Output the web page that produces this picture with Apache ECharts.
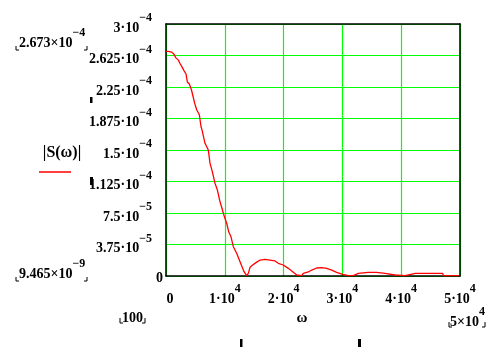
<!DOCTYPE html>
<html>
<head>
<meta charset="utf-8">
<script src="https://cdn.jsdelivr.net/npm/echarts@6.0.0/dist/echarts.min.js"></script>
<style>
html,body{margin:0;padding:0;background:#fff;}
#chart{width:504px;height:352px;}
</style>
</head>
<body>
<div id="chart"></div>
<script>
// ---- data ----
const omega = [0, 390, 970, 1360, 1650, 2100, 2380, 2720, 3060, 3400, 3630, 3970, 4310, 4540, 4880, 5220, 5670, 5950, 6120, 6630,
  7200, 7480, 7880, 8330, 8730, 9180, 9520, 9920, 10320, 10660, 11050, 11450, 12020, 12470, 12930, 13270, 13720, 14000, 14290, 14740,
  15310, 15990, 16840, 17690, 18540, 19100, 19950, 20800, 21550, 22230, 23080, 23350, 24200, 24780, 25630, 26480, 27330, 28180, 29030, 30050,
  31000, 31850, 32700, 34400, 35830, 37240, 38950, 40650, 42400, 44330, 47060, 47160, 49880];
// |S(omega)| in units of 1e-4
const magnitude = [2.673, 2.673, 2.665, 2.64, 2.60, 2.57, 2.53, 2.49, 2.445, 2.405, 2.31, 2.285, 2.22, 2.155, 2.055, 1.98, 1.92, 1.78, 1.74, 1.58,
  1.50, 1.343, 1.243, 1.105, 1.025, 0.886, 0.807, 0.707, 0.628, 0.528, 0.468, 0.349, 0.27, 0.19, 0.11, 0.051, 0.004, 0.032, 0.103, 0.131,
  0.159, 0.19, 0.198, 0.19, 0.179, 0.151, 0.131, 0.091, 0.051, 0.012, 0.004, 0.032, 0.048, 0.071, 0.095, 0.099, 0.091, 0.071, 0.044, 0.02,
  0.004, 0.004, 0.032, 0.044, 0.044, 0.032, 0.012, 0.004, 0.032, 0.032, 0.032, 0.004, 0.004];
const MAG_UNIT = 1e-4;

const yTickMantissa = ['0', '3.75', '7.5', '1.125', '1.5', '1.875', '2.25', '2.625', '3'];
const yTickExponent = ['', '\u22125', '\u22125', '\u22124', '\u22124', '\u22124', '\u22124', '\u22124', '\u22124'];
const xTickMantissa = ['0', '1', '2', '3', '4', '5'];
const xTickExponent = ['', '4', '4', '4', '4', '4'];
const Y_MAX = 3e-4, Y_STEP = 3.75e-5, X_MAX = 50000, X_STEP = 10000;

const FONT = '"Liberation Serif", "Times New Roman", serif';

const seriesData = omega.map((w, i) => [w, magnitude[i] * MAG_UNIT]);

const yRich = {
  m: {fontFamily: FONT, fontWeight: 'bold', fontSize: 14, color: '#000', padding: [8, 0, 0, 0]},
  s: {fontFamily: FONT, fontWeight: 'bold', fontSize: 12, color: '#000', padding: [0, 11, 12, 0]},
  z: {fontFamily: FONT, fontWeight: 'bold', fontSize: 14, color: '#000', padding: [4, 0, 0, 0]}
};
const xRich = {
  m: {fontFamily: FONT, fontWeight: 'bold', fontSize: 14, color: '#000'},
  s: {fontFamily: FONT, fontWeight: 'bold', fontSize: 12, color: '#000', padding: [0, 0, 20, 0]},
  z: {fontFamily: FONT, fontWeight: 'bold', fontSize: 14, color: '#000', padding: [9, 0, 0, 8]}
};
const gRich = {
  m: {fontFamily: FONT, fontWeight: 'bold', fontSize: 14, fill: '#000', padding: [8, 0, 0, 0]},
  s: {fontFamily: FONT, fontWeight: 'bold', fontSize: 12, fill: '#000', padding: [0, 0, 12, 0]}
};

function bracket(x1, x2, yTop, yBot) {
  return [
    {type: 'polyline', shape: {points: [[x1, yTop], [x1, yBot], [x1 + 3, yBot]]}, style: {stroke: '#000', lineWidth: 1, fill: null}},
    {type: 'polyline', shape: {points: [[x2 - 3, yBot], [x2, yBot], [x2, yTop]]}, style: {stroke: '#000', lineWidth: 1, fill: null}}
  ];
}

const frameLine = {show: true, onZero: false, lineStyle: {color: '#000', width: 1.5}};

const chart = echarts.init(document.getElementById('chart'), null, {renderer: 'canvas'});
chart.setOption({
  animation: false,
  backgroundColor: '#fff',
  grid: {left: 166, top: 24, width: 294, height: 252, show: false},
  xAxis: [{
    type: 'value', min: 0, max: X_MAX, interval: X_STEP, position: 'bottom',
    axisLine: frameLine, axisTick: {show: false},
    splitLine: {show: true, lineStyle: {color: '#00ff00', width: 1.2}},
    axisLabel: {
      margin: 7, rich: xRich,
      formatter: function (v) {
        const i = Math.round(v / X_STEP);
        if (!xTickExponent[i]) return '{z|' + xTickMantissa[i] + '}';
        return '{m|' + xTickMantissa[i] + '\u00b710}{s|' + xTickExponent[i] + '}';
      }
    },
    z: 3
  }, {
    type: 'value', min: 0, max: X_MAX, interval: X_STEP, position: 'top',
    axisLine: frameLine, axisTick: {show: false}, axisLabel: {show: false}, splitLine: {show: false}, z: 3
  }],
  yAxis: [{
    type: 'value', min: 0, max: Y_MAX, interval: Y_STEP, position: 'left',
    axisLine: frameLine, axisTick: {show: false},
    splitLine: {show: true, lineStyle: {color: '#00ff00', width: 1.2}},
    axisLabel: {
      margin: 3, rich: yRich, align: 'right',
      formatter: function (v) {
        const i = Math.round(v / Y_STEP);
        if (!yTickExponent[i]) return '{z|' + yTickMantissa[i] + '}';
        return '{m|' + yTickMantissa[i] + '\u00b710}{s|' + yTickExponent[i] + '}';
      }
    },
    z: 3
  }, {
    type: 'value', min: 0, max: Y_MAX, interval: Y_STEP, position: 'right',
    axisLine: frameLine, axisTick: {show: false}, axisLabel: {show: false}, splitLine: {show: false}, z: 3
  }],
  series: [{
    type: 'line', data: seriesData, showSymbol: false, xAxisIndex: 0, yAxisIndex: 0,
    lineStyle: {color: '#ff0000', width: 1.3}, itemStyle: {color: '#ff0000'},
    z: 5
  }],
  graphic: [
    {type: 'text', x: 19, y: 27, style: {text: '{m|2.673\u00d710}{s|\u22124}', rich: gRich, verticalAlign: 'top', align: 'left'}},
    ...bracket(16, 87, 46, 50),
    {type: 'text', x: 19, y: 258, style: {text: '{m|9.465\u00d710}{s|\u22129}', rich: gRich, verticalAlign: 'top', align: 'left'}},
    ...bracket(16, 87, 277, 281),
    {type: 'text', x: 122, y: 318, style: {text: '100', fontFamily: FONT, fontWeight: 'bold', fontSize: 14, fill: '#000', verticalAlign: 'middle', align: 'left'}},
    ...bracket(120, 145, 318, 323),
    {type: 'text', x: 450, y: 306, style: {text: '{m|5\u00d710}{s|4}', rich: gRich, verticalAlign: 'top', align: 'left'}},
    ...bracket(449, 485, 322, 327),
    {type: 'text', x: 302, y: 318, style: {text: '\u03c9', fontFamily: FONT, fontWeight: 'bold', fontSize: 15, fill: '#000', verticalAlign: 'middle', align: 'center'}},
    {type: 'text', x: 62, y: 153, style: {text: '|S(\u03c9)|', fontFamily: FONT, fontWeight: 'bold', fontSize: 16, fill: '#000', verticalAlign: 'middle', align: 'center'}},
    {type: 'line', shape: {x1: 39, y1: 172, x2: 71, y2: 172}, style: {stroke: '#ff0000', lineWidth: 1.5}},
    {type: 'rect', shape: {x: 90, y: 97, width: 2.5, height: 6}, style: {fill: '#000'}},
    {type: 'rect', shape: {x: 90, y: 177, width: 3, height: 8}, style: {fill: '#000'}},
    {type: 'rect', shape: {x: 240, y: 339, width: 2.5, height: 8}, style: {fill: '#000'}},
    {type: 'rect', shape: {x: 358, y: 339, width: 3, height: 8}, style: {fill: '#000'}}
  ]
});
</script>
</body>
</html>
